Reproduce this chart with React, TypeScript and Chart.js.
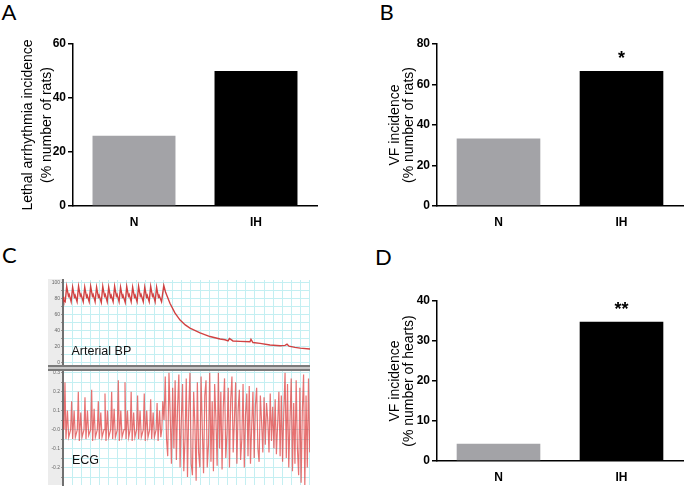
import React, { useEffect, useRef } from "react";
import { Chart, registerables } from "chart.js";

Chart.register(...registerables);

const FONT = '"Liberation Sans", Arial, sans-serif';

// ---------- Bar panel data ----------
const categories = ["N", "IH"];
const barColors = ["#a3a3a7", "#000000"];

const lethalA = [26, 50];
const vfRatsB = [33.3, 66.7];
const vfHeartsD = [4.3, 34.8];

const sigA = ["", ""];
const sigB = ["", "*"];
const sigD = ["", "**"];

const titleA = ["Lethal arrhythmia incidence", "(% number of rats)"];
const titleB = ["VF incidence", "(% number of rats)"];
const titleD = ["VF incidence", "(% number of hearts)"];

// ---------- Trace panel data (x in % of sweep, y in mmHg / mV) ----------
const bpTrace: [number, number][] = [
  [0, 82], [0.3, 78], [0.9, 76], [1.5, 95], [2.2, 83], [2.5, 85],
  [3.3, 76], [3.9, 94], [4.6, 82], [4.9, 84],
  [5.7, 76], [6.3, 95], [7.0, 83], [7.3, 85],
  [8.2, 76], [8.8, 94], [9.5, 82], [9.8, 84],
  [10.6, 76], [11.2, 95], [11.9, 83], [12.2, 85],
  [13.0, 76], [13.6, 94], [14.3, 82], [14.6, 84],
  [15.5, 75], [16.1, 95], [16.8, 83], [17.1, 85],
  [17.9, 76], [18.5, 94], [19.2, 82], [19.5, 84],
  [20.3, 76], [20.9, 95], [21.6, 83], [21.9, 85],
  [22.7, 76], [23.3, 94], [24.0, 82], [24.3, 84],
  [25.2, 75], [25.8, 95], [26.5, 83], [26.8, 85],
  [27.6, 76], [28.2, 94], [28.9, 82], [29.2, 84],
  [30.0, 76], [30.6, 95], [31.3, 83], [31.6, 85],
  [32.5, 76], [33.1, 94], [33.8, 82], [34.1, 84],
  [34.9, 76], [35.5, 95], [36.2, 83], [36.5, 85],
  [37.3, 76], [37.9, 94], [38.6, 82], [38.9, 84],
  [39.9, 76], [40.8, 96],
  [41.5, 88], [43.3, 74], [45.3, 62], [47.4, 53], [49.5, 47], [51.4, 43],
  [55.5, 37], [59.5, 32.5], [63.6, 29.5], [65.6, 28.5], [66.8, 27], [67.4, 30],
  [68.8, 27], [71.7, 26.5], [75.7, 26], [76.1, 29], [76.9, 25], [79.8, 24],
  [83.8, 22], [87.9, 21], [89.9, 21.5], [90.7, 23], [91.5, 20.5], [93.9, 19],
  [96, 18], [100, 17],
];

const ecgSinus: [number, number][] = [
  [0, 0.05], [0.4, 0.0], [0.8, 0.25], [1.2, -0.05], [1.8, 0.1], [2.3, -0.04],
  [3.1, 0.0], [3.5, 0.15], [3.9, -0.05], [4.5, 0.1], [5.0, -0.04],
  [5.8, 0.0], [6.2, 0.2], [6.6, -0.06], [7.2, 0.09], [7.7, -0.04],
  [8.5, 0.0], [8.9, 0.17], [9.3, -0.05], [9.9, 0.1], [10.4, -0.03],
  [11.2, 0.0], [11.6, 0.21], [12.0, -0.06], [12.6, 0.11], [13.1, -0.04],
  [13.9, 0.0], [14.3, 0.15], [14.7, -0.05], [15.3, 0.09], [15.8, -0.04],
  [16.6, 0.0], [17.0, 0.19], [17.4, -0.06], [18.0, 0.1], [18.5, -0.04],
  [19.3, 0.0], [19.7, 0.2], [20.1, -0.05], [20.7, 0.11], [21.2, -0.04],
  [22.0, 0.0], [22.4, 0.26], [22.8, -0.06], [23.4, 0.1], [23.9, -0.04],
  [24.7, 0.0], [25.1, 0.25], [25.5, -0.05], [26.1, 0.1], [26.6, -0.04],
  [27.2, 0.0], [27.6, 0.2], [28.0, -0.06], [28.6, 0.09], [29.1, -0.04],
  [29.8, 0.0], [30.2, 0.18], [30.6, -0.05], [31.2, 0.1], [31.7, -0.04],
  [32.5, 0.0], [32.9, 0.19], [33.3, -0.06], [33.9, 0.1], [34.4, -0.04],
  [35.1, 0.0], [35.5, 0.16], [35.9, -0.05], [36.5, 0.09], [37.0, -0.04],
  [37.7, 0.0], [38.1, 0.14], [38.5, -0.06], [39.1, 0.1], [39.6, -0.04],
  [40.0, 0.0], [40.4, 0.15],
];

// VF section, sampled every 0.5 % of sweep starting at 40.9
const vfStart = 40.9;
const vfStep = 0.5;
const ecgVF = [
  0.05,
  0.28, -0.05, -0.14, 0.3, 0.08, -0.18, 0.22, -0.1, 0.26, -0.16,
  0.12, 0.29, -0.2, 0.05, 0.24, -0.22, -0.05, 0.27, -0.25, 0.1,
  0.3, -0.18, -0.24, 0.2, 0.02, -0.27, 0.25, -0.12, -0.2, 0.28,
  0.0, -0.23, 0.18, 0.26, -0.2, -0.08, 0.3, -0.17, 0.15, -0.22,
  0.24, 0.06, -0.19, 0.3, -0.1, 0.2, -0.21, 0.12, 0.27, -0.15,
  -0.02, 0.22, -0.2, 0.16, 0.28, -0.12, 0.05, 0.25, -0.18, 0.1,
  0.21, -0.16, -0.05, 0.24, -0.2, 0.08, 0.19, -0.14, 0.23, -0.18,
  0.02, 0.2, -0.15, 0.13, 0.22, -0.1, -0.17, 0.18, 0.04, -0.12,
  0.17, -0.08, 0.14, 0.05, -0.12, 0.19, -0.06, 0.12, -0.1, 0.16,
  -0.13, 0.03, 0.2, -0.14, 0.18, -0.17, 0.1, 0.3, -0.15,
  0.24, -0.2, 0.05, 0.27, -0.22, 0.14, -0.18, 0.26, -0.1, -0.24,
  0.22, -0.28, 0.1, 0.29, -0.3, 0.18, -0.2, 0.27, -0.12,
];

const bpTickValues = [0, 10, 20, 30, 40, 50, 60, 70, 80, 90, 100];
const bpTickLabels = ["0", "", "20", "", "40", "", "60", "", "80", "", "100"];
const ecgTickValues = [-0.25, -0.2, -0.15, -0.1, -0.05, 0, 0.05, 0.1, 0.15, 0.2, 0.25, 0.3];
const ecgTickLabels = ["", "-0.2", "", "-0.1", "", "-0.0", "", "0.1", "", "0.2", "", "0.3"];

const GRID_CYAN = "#c4eff2";

const starPlugin = {
  id: "stars",
  afterDatasetsDraw(chart: any, _args: any, opts: any) {
    const labels: string[] = (opts && opts.labels) || [];
    const meta = chart.getDatasetMeta(0);
    const ctx = chart.ctx;
    ctx.save();
    ctx.font = `bold 18px ${FONT}`;
    ctx.fillStyle = "#000";
    ctx.textAlign = "center";
    ctx.textBaseline = "alphabetic";
    meta.data.forEach((el: any, i: number) => {
      if (labels[i]) ctx.fillText(labels[i], el.x, el.y - 7);
    });
    ctx.restore();
  },
};

type BarProps = {
  left: number; top: number; w: number; h: number;
  values: number[]; stars: string[]; title: string[];
  max: number; step: number;
  yWidth: number; xHeight: number;
  padTop: number; padRight: number;
  titlePad: number; titleLH: number;
};

function BarPanel(p: BarProps) {
  const ref = useRef<HTMLCanvasElement>(null);
  useEffect(() => {
    if (!ref.current) return;
    const chart = new Chart(ref.current, {
      type: "bar",
      data: {
        labels: categories,
        datasets: [
          {
            data: p.values,
            backgroundColor: barColors,
            borderWidth: 0,
            barPercentage: 0.68,
            categoryPercentage: 1,
          },
        ],
      },
      options: {
        responsive: false,
        animation: false,
        layout: { padding: { top: p.padTop, right: p.padRight, bottom: 0, left: 0 } },
        plugins: {
          legend: { display: false },
          tooltip: { enabled: false },
          stars: { labels: p.stars },
        } as any,
        scales: {
          x: {
            grid: { display: true, drawOnChartArea: false, drawTicks: false },
            border: { color: "#000", width: 1.5 },
            ticks: { color: "#000", font: { family: FONT, size: 12, weight: "bold" }, padding: 9 },
            afterFit: (s: any) => { s.height = p.xHeight; },
          },
          y: {
            min: 0,
            max: p.max,
            ticks: { stepSize: p.step, color: "#000", font: { family: FONT, size: 12, weight: "bold" }, padding: 2 },
            grid: { drawOnChartArea: false, drawTicks: true, tickLength: 5, color: "#000", lineWidth: 1.5 },
            border: { color: "#000", width: 1.5 },
            title: {
              display: true,
              text: p.title,
              color: "#000",
              font: { family: FONT, size: 14, lineHeight: p.titleLH },
              padding: { top: p.titlePad, bottom: 0 },
            },
            afterFit: (s: any) => { s.width = p.yWidth; },
          },
        },
      } as any,
      plugins: [starPlugin],
    });
    return () => chart.destroy();
  }, []);
  return (
    <canvas
      ref={ref}
      width={p.w}
      height={p.h}
      style={{ position: "absolute", left: p.left, top: p.top, width: p.w, height: p.h }}
    />
  );
}

type TraceProps = {
  left: number; top: number; w: number; h: number;
  points: { x: number; y: number }[];
  min: number; max: number;
  tickValues: number[]; tickLabels: string[];
  color: string; lineWidth: number;
};

const gridX = [3.7, 7.4, 11.1, 14.8, 18.5, 22.2, 25.9, 29.6, 33.3, 37, 40.7, 44.4, 48.1, 51.8, 55.5, 59.2, 62.9, 66.6, 70.3, 74, 77.7, 81.4, 85.1, 88.8, 92.5, 96.2, 99.9];

function TracePanel(p: TraceProps) {
  const ref = useRef<HTMLCanvasElement>(null);
  useEffect(() => {
    if (!ref.current) return;
    const chart = new Chart(ref.current, {
      type: "line",
      data: {
        datasets: [
          {
            data: p.points,
            borderColor: p.color,
            borderWidth: p.lineWidth,
            pointRadius: 0,
            tension: 0,
            fill: false,
          },
        ],
      },
      options: {
        responsive: false,
        animation: false,
        layout: { padding: { top: 4, bottom: 4, left: 0, right: 0 } },
        plugins: { legend: { display: false }, tooltip: { enabled: false } },
        scales: {
          x: {
            type: "linear",
            min: 0,
            max: 100,
            afterBuildTicks: (s: any) => { s.ticks = gridX.map((v) => ({ value: v })); },
            ticks: { display: false },
            grid: { color: GRID_CYAN, lineWidth: 1, drawTicks: false },
            border: { display: false },
            afterFit: (s: any) => { s.height = 0; },
          },
          y: {
            min: p.min,
            max: p.max,
            afterBuildTicks: (s: any) => { s.ticks = p.tickValues.map((v) => ({ value: v })); },
            ticks: {
              autoSkip: false,
              color: "#666",
              font: { family: FONT, size: 5 },
              padding: 1,
              callback: (_v: any, i: number) => p.tickLabels[i],
            },
            grid: { color: GRID_CYAN, lineWidth: 1, tickColor: "#999", tickLength: 2 },
            border: { color: "#707070", width: 2 },
            afterFit: (s: any) => { s.width = 15; },
          },
        },
      } as any,
    });
    return () => chart.destroy();
  }, []);
  return (
    <canvas
      ref={ref}
      width={p.w}
      height={p.h}
      style={{ position: "absolute", left: p.left, top: p.top, width: p.w, height: p.h }}
    />
  );
}

const letterStyle: React.CSSProperties = {
  position: "absolute",
  fontFamily: "Lato, 'Open Sans', sans-serif",
  fontSize: 22,
  lineHeight: 1,
  color: "#000",
};

const traceLabel: React.CSSProperties = {
  position: "absolute",
  fontFamily: FONT,
  fontSize: 12.5,
  lineHeight: 1,
  color: "#111",
};

export default function App() {
  const bpPoints = bpTrace.map(([x, y]) => ({ x, y }));
  const ecgPoints = [
    ...ecgSinus.map(([x, y]) => ({ x, y })),
    ...ecgVF.map((y, i) => ({ x: vfStart + i * vfStep, y })),
  ];
  return (
    <div style={{ position: "absolute", left: 0, top: 0, width: 685, height: 486, background: "#fff", overflow: "hidden" }}>
      <div style={{ ...letterStyle, left: 1.5, top: 1 }}>A</div>
      <div style={{ ...letterStyle, left: 379.5, top: 1 }}>B</div>
      <div style={{ ...letterStyle, left: 2, top: 243.5 }}>C</div>
      <div style={{ ...letterStyle, left: 375, top: 245.5 }}>D</div>

      <BarPanel left={0} top={0} w={340} h={240} values={lethalA} stars={sigA} title={titleA}
        max={60} step={20} yWidth={73} xHeight={34} padTop={44} padRight={23} titlePad={18.5} titleLH={1.35} />
      <BarPanel left={340} top={0} w={345} h={240} values={vfRatsB} stars={sigB} title={titleB}
        max={80} step={20} yWidth={97} xHeight={34} padTop={44} padRight={2} titlePad={48} titleLH={1.0} />
      <BarPanel left={340} top={240} w={345} h={246} values={vfHeartsD} stars={sigD} title={titleD}
        max={40} step={10} yWidth={97} xHeight={25} padTop={61} padRight={2} titlePad={48} titleLH={1.0} />

      {/* Panel C recording */}
      <div style={{ position: "absolute", left: 48, top: 279, width: 15, height: 206, background: "#ececec" }} />
      <div style={{ position: "absolute", left: 63, top: 279, width: 247, height: 206, background: "#fff" }} />
      <TracePanel left={48} top={276} w={262} h={93} points={bpPoints} min={-3} max={103}
        tickValues={bpTickValues} tickLabels={bpTickLabels} color="rgba(205,45,45,0.9)" lineWidth={1.4} />
      <TracePanel left={48} top={367} w={262} h={122} points={ecgPoints} min={-0.292} max={0.309}
        tickValues={ecgTickValues} tickLabels={ecgTickLabels} color="rgba(222,60,60,0.72)" lineWidth={1.2} />
      <div style={{ position: "absolute", left: 48, top: 365, width: 262, height: 2, background: "#7a7a7a" }} />
      <div style={{ position: "absolute", left: 48, top: 367, width: 262, height: 2, background: "#c8c8c8" }} />
      <div style={{ position: "absolute", left: 48, top: 369, width: 262, height: 2, background: "#7a7a7a" }} />
      <div style={{ ...traceLabel, left: 71.5, top: 345 }}>Arterial BP</div>
      <div style={{ ...traceLabel, left: 72, top: 453.5 }}>ECG</div>
    </div>
  );
}
